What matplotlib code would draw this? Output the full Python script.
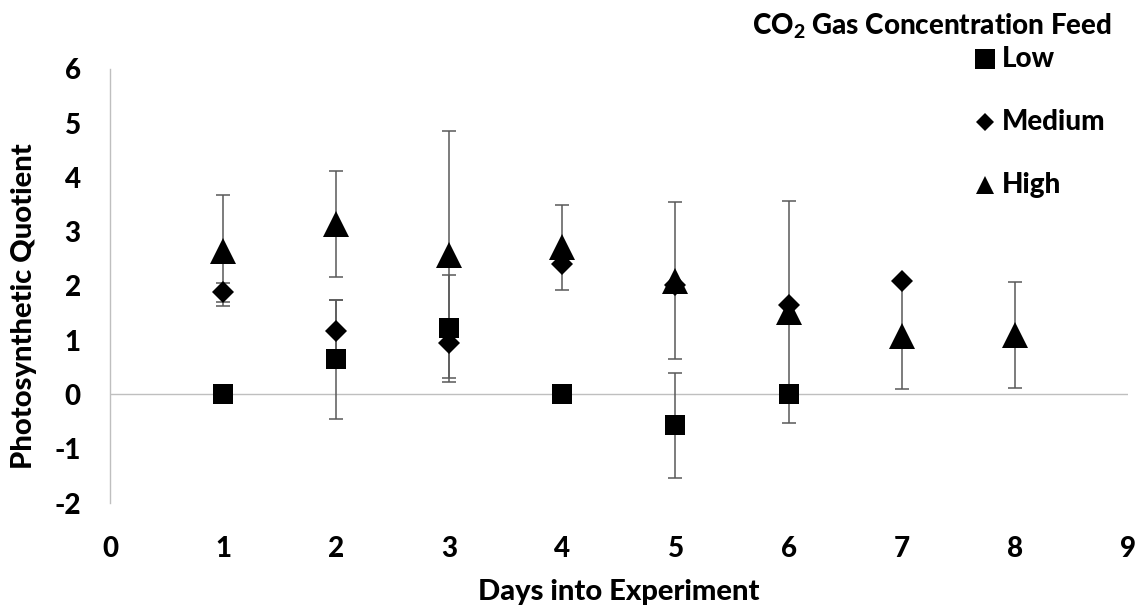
import matplotlib
matplotlib.use('Agg')
import matplotlib.pyplot as plt
from matplotlib.lines import Line2D

plt.rcParams['font.family'] = ['Lato', 'DejaVu Sans']
plt.rcParams['font.weight'] = 900
plt.rcParams['axes.unicode_minus'] = False
plt.rcParams['mathtext.fontset'] = 'custom'
plt.rcParams['mathtext.rm'] = 'Lato:black'
plt.rcParams['mathtext.bf'] = 'Lato:black'
plt.rcParams['mathtext.default'] = 'rm'

# data
low_days = [1, 2, 3, 4, 5, 6]
low_pq = [0.0, 0.65, 1.22, 0.0, -0.57, 0.0]
low_err = [0.0, 1.10, 0.99, 0.0, 0.97, 0.0]

med_days = [1, 2, 3, 4, 5, 6, 7]
med_pq = [1.88, 1.17, 0.95, 2.40, 2.02, 1.65, 2.09]
med_err = [0.18, 0.58, 0.0, 0.0, 0.0, 0.0, 0.0]

high_days = [1, 2, 3, 4, 5, 6, 7, 8]
high_pq = [2.65, 3.14, 2.58, 2.71, 2.10, 1.52, 1.08, 1.10]
high_err = [1.02, 0.98, 2.28, 0.78, 1.45, 2.04, 0.97, 0.98]

series = [
    ('Low', low_days, low_pq, low_err, 's', 13.7, 14.4),
    ('Medium', med_days, med_pq, med_err, 'D', 11.7, 8.7),
    ('High', high_days, high_pq, high_err, '^', 18.7, 13.0),
]

fig = plt.figure(figsize=(11.43, 6.12), dpi=100)
ax = fig.add_axes([0.0962, 0.1781, 0.8906, 0.7092])

ax.axhline(0, color='#bfbfbf', linewidth=1.0, zorder=1)

for name, days, vals, errs, mk, ms, _ in series:
    eb = ax.errorbar(days, vals, yerr=errs, fmt=mk, color='black', markersize=ms,
                     ecolor='#595959', elinewidth=1.1, capsize=5, capthick=1.1,
                     zorder=3)
    eb[0].set_markeredgewidth(0)

ax.set_xlim(0, 9)
ax.set_ylim(-2, 6)
ax.set_xticks(range(0, 10))
ax.set_yticks(range(-2, 7))
ax.tick_params(axis='both', length=0, labelsize=20)
ax.tick_params(axis='x', pad=24)
ax.tick_params(axis='y', pad=21)

for s in ['top', 'right', 'bottom']:
    ax.spines[s].set_visible(False)
ax.spines['left'].set_color('#bfbfbf')
ax.spines['left'].set_linewidth(1.0)

fig.text(619 / 1143, 1 - 592 / 612, 'Days into Experiment', ha='center', va='center', fontsize=21)
fig.text(24 / 1143, 1 - 306 / 612, 'Photosynthetic Quotient', ha='center', va='center',
         rotation=90, fontsize=21)

# legend drawn by hand to match spacing
fig.text(1112 / 1143, 1 - 26 / 612, 'CO$_2$ Gas Concentration Feed', ha='right', va='center', fontsize=20)
leg_y = [59, 122, 185]
for (name, _, _, _, mk, _, lms), y in zip(series, leg_y):
    fig.add_artist(Line2D([985 / 1143], [1 - y / 612], marker=mk, color='black',
                          markersize=lms, markeredgewidth=0, linestyle='none',
                          transform=fig.transFigure))
    fig.text(1002 / 1143, 1 - y / 612, name, ha='left', va='center', fontsize=20)

fig.savefig('out.png', dpi=100)
